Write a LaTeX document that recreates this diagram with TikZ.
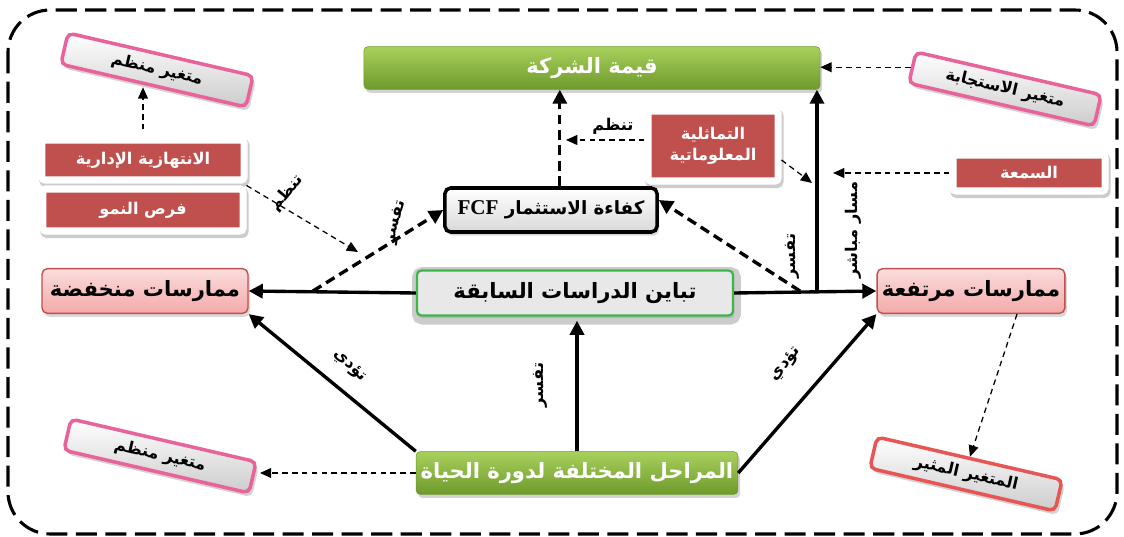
\documentclass[tikz,border=0pt]{standalone}
\usepackage{fontspec}
\setmainfont{Liberation Serif}
\newfontfamily\arabicfont[Script=Arabic]{DejaVu Sans}
\TeXXeTstate=1
\usetikzlibrary{arrows.meta,shadows}
\definecolor{boxred}{HTML}{C0504D}
\definecolor{leafgreen}{HTML}{A8D05C}
\definecolor{darkleaf}{HTML}{6E9A2C}
\definecolor{barpink}{HTML}{E8629C}
\definecolor{barred}{HTML}{E85555}
\definecolor{rimgreen}{HTML}{3DB54A}
\definecolor{pracpink}{HTML}{F4A9A9}
\newcommand{\artxt}[1]{\beginR#1\endR}

\begin{document}
\begin{tikzpicture}[x=0.025cm,y=-0.025cm,
 greenbar/.style={rounded corners=3pt,top color=leafgreen,bottom color=darkleaf,draw=darkleaf,text=white,drop shadow={opacity=.35,shadow xshift=1.5pt,shadow yshift=-2.5pt},font=\arabicfont\bfseries\fontsize{15}{18}\selectfont},
 redbox/.style={fill=boxred,draw=white,line width=5pt,text=white,rounded corners=2pt,drop shadow={opacity=.2,draw=black,line width=6pt,shadow xshift=1pt,shadow yshift=-2pt},font=\arabicfont\bfseries\fontsize{11.5}{15}\selectfont,align=center},
 pracbox/.style={rounded corners=4pt,top color=pracpink!40,bottom color=pracpink,draw=boxred,line width=1pt,drop shadow={opacity=.3,shadow xshift=1.5pt,shadow yshift=-2.5pt},font=\arabicfont\bfseries\fontsize{15}{18}\selectfont},
 tiltbar/.style={rotate=-13,minimum width=4.75cm,minimum height=0.8cm,rounded corners=4pt,top color=white,bottom color=gray!40,draw=barpink,line width=2.5pt,drop shadow={opacity=.35,shadow xshift=2pt,shadow yshift=-3pt},font=\arabicfont\bfseries\fontsize{11.5}{14}\selectfont},
 lbl/.style={inner sep=1pt,font=\arabicfont\bfseries\fontsize{11.5}{14}\selectfont},
 bigline/.style={line width=2.4pt,-{Triangle[length=10pt,width=10pt]}},
 bigdash/.style={bigline,dash pattern=on 7pt off 4pt},
 smalldash/.style={line width=0.9pt,dash pattern=on 4pt off 3pt,-{Triangle[length=8pt,width=7pt]}}]
\useasboundingbox (0,0) rectangle (1124,537);
% boundary
\draw[line width=2.2pt,dash pattern=on 15pt off 6pt,rounded corners=30pt] (8,10) rectangle (1117,534);
% main boxes
\node[greenbar,minimum width=11.4cm,minimum height=1.07cm] (value) at (592,68) {\artxt{قيمة الشركة}};
\node[rounded corners=4pt,top color=white,bottom color=gray!30,draw=black,line width=2.5pt,minimum width=5.3cm,minimum height=1.1cm,drop shadow={opacity=.3,shadow xshift=1.5pt,shadow yshift=-2.5pt},font=\arabicfont\bfseries\fontsize{13}{16}\selectfont] (fcf) at (551,210) {\artxt{كفاءة الاستثمار \beginL{\rmfamily\bfseries\fontsize{15}{16}\selectfont FCF}\endL}};
\node[pracbox,minimum width=5.15cm,minimum height=1.12cm] (lowprac) at (145,291) {\artxt{ممارسات منخفضة}};
\node[pracbox,minimum width=4.6cm,minimum height=1.12cm] (highprac) at (971,291) {\artxt{ممارسات مرتفعة}};
\node[fill=gray!18,draw=rimgreen,line width=1.6pt,rounded corners=3pt,preaction={draw=white,line width=9pt},drop shadow={opacity=.2,draw=black,line width=9pt,shadow xshift=1pt,shadow yshift=-2pt},minimum width=7.9cm,minimum height=1.12cm,font=\arabicfont\bfseries\fontsize{15}{18}\selectfont] (diverg) at (575,293) {\artxt{تباين الدراسات السابقة}};
\node[greenbar,minimum width=8cm,minimum height=1.07cm] (lifecyc) at (577,473) {\artxt{المراحل المختلفة لدورة الحياة}};
% side boxes
\node[redbox,minimum width=5.05cm,minimum height=1.0cm] (opport) at (143,160) {\artxt{الانتهازية الإدارية}};
\node[redbox,minimum width=5.0cm,minimum height=1.05cm] (growth) at (143,210) {\artxt{فرص النمو}};
\node[redbox,minimum width=3.25cm,minimum height=1.75cm] (infoasym) at (713,146) {\artxt{التماثلية}\\\artxt{المعلوماتية}};
\node[redbox,minimum width=3.8cm,minimum height=0.9cm] (reput) at (1029,173) {\artxt{السمعة}};
\node[tiltbar] (modtop) at (157,70) {\artxt{متغير منظم}};
\node[tiltbar] (respvar) at (1005,89) {\artxt{متغير الاستجابة}};
\node[tiltbar] (modbot) at (160,456) {\artxt{متغير منظم}};
\node[tiltbar,draw=barred] (stimvar) at (966,474) {\artxt{المتغير المثير}};
% junctions
\coordinate (splitl) at (313,291);
\coordinate (splitr) at (800,291);
\coordinate (direct) at (817,291);
\coordinate (hitl) at (358,252);
\coordinate (hitc) at (566,140);
\coordinate (hitr) at (812,183);
\coordinate (hitrep) at (833,173);
% solid arrows
\draw[bigline] (diverg.west) -- (lowprac.east);
\draw[bigline] (diverg.east) -- (highprac.west);
\draw[bigline] (direct) -- (direct |- value.south);
\draw[bigline,shorten >=3pt] (lifecyc.north) -- (lifecyc.north |- diverg.south);
\draw[bigline] (lifecyc.north west) -- (lowprac.south east);
\draw[bigline] (lifecyc.east) -- (highprac.south west);
% dashed arrows
\draw[bigdash] (splitl) -- (fcf.west);
\draw[bigdash] (splitr) -- ([yshift=0.25cm]fcf.east);
\draw[bigdash] ([xshift=0.22cm]fcf.north) -- ([xshift=0.22cm]fcf.north |- value.south);
\draw[smalldash,shorten <=5pt] (opport.north) -- (opport.north |- modtop.south);
\draw[smalldash] (growth.north east) -- (hitl);
\draw[smalldash] (infoasym.west |- hitc) -- (hitc);
\draw[smalldash] ([yshift=-0.35cm]infoasym.east) -- (hitr);
\draw[smalldash] (respvar.west) -- (respvar.west -| value.east);
\draw[smalldash] (reput.west) -- (hitrep);
\draw[smalldash,shorten >=4pt] (lifecyc.west) -- (lifecyc.west -| modbot.east);
\draw[smalldash] ([xshift=1.15cm]highprac.south) -- (stimvar.north);
% labels
\node[lbl,rotate=50] (lblorg) at (287,193) {\artxt{تنظم}};
\node[lbl,rotate=75] (lblexl) at (396,222) {\artxt{تفسر}};
\node[lbl] (lblorgc) at (613,126) {\artxt{تنظم}};
\node[lbl,rotate=90] (lblexr) at (792,256) {\artxt{تفسر}};
\node[lbl,rotate=90] (lbldir) at (853,230) {\artxt{مسار مباشر}};
\node[lbl,rotate=90] (lblexc) at (540,385) {\artxt{تفسر}};
\node[lbl,rotate=-43] (lblleadl) at (350,366) {\artxt{تؤدي}};
\node[lbl,rotate=51] (lblleadr) at (786,364) {\artxt{تؤدي}};
\end{tikzpicture}
\end{document}
